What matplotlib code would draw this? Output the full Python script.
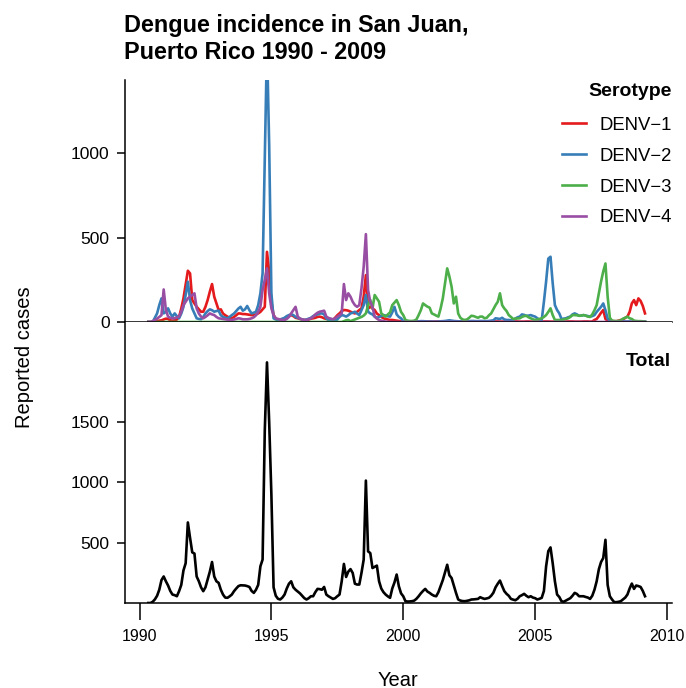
import matplotlib
matplotlib.use("Agg")
import matplotlib.pyplot as plt
import numpy as np

plt.rcParams['font.family'] = ['Liberation Sans', 'DejaVu Sans']

# monthly reported cases, May 1990 - Mar 2009
start_year = 1990 + 4 / 12

denv1 = [
    0, 0, 0, 2, 5, 8, 10, 15,
    20, 18, 10, 8, 10, 15, 30, 80, 140, 220, 304, 288,
    130, 110, 90, 75, 61, 61, 90, 130, 180, 225, 150, 110,
    71, 75, 50, 40, 32, 25, 22, 30, 40, 51, 50, 47,
    47, 45, 43, 41, 41, 45, 51, 60, 75, 90, 416, 300,
    120, 41, 20, 12, 12, 15, 22, 30, 35, 41, 35, 25,
    22, 18, 15, 12, 12, 15, 20, 22, 25, 30, 32, 28,
    22, 18, 15, 12, 12, 25, 40, 51, 65, 71, 70, 67,
    61, 55, 51, 60, 71, 81, 150, 278, 80, 91, 80, 71,
    50, 41, 30, 22, 18, 15, 12, 12, 10, 8, 6, 5,
    4, 3, 3, 2, 2, 3, 3, 4, 3, 2, 2, 3,
    3, 2, 2, 3, 3, 4, 3, 3, 2, 2, 3, 3,
    2, 2, 3, 3, 2, 2, 2, 3, 3, 2, 2, 2,
    2, 3, 3, 2, 2, 2, 3, 3, 2, 2, 2, 2,
    2, 2, 2, 3, 3, 2, 2, 2, 3, 3, 2, 2,
    2, 2, 2, 2, 3, 3, 3, 2, 2, 2, 2, 2,
    2, 2, 2, 3, 3, 3, 2, 2, 2, 2, 3, 3,
    3, 2, 3, 12, 18, 35, 55, 71, 18, 8, 5, 5,
    5, 5, 8, 12, 15, 25, 32, 60, 110, 130, 100, 140,
    125, 95, 51,
]

denv2 = [
    0, 0, 0, 25, 51, 100, 140, 51,
    60, 81, 50, 32, 51, 35, 22, 50, 90, 160, 239, 130,
    80, 51, 22, 18, 16, 30, 51, 65, 75, 70, 61, 65,
    67, 40, 30, 25, 22, 30, 41, 50, 65, 80, 90, 67,
    75, 95, 70, 51, 55, 61, 100, 170, 288, 958, 1650, 1050,
    170, 22, 15, 12, 15, 20, 25, 35, 41, 45, 41, 30,
    25, 20, 15, 12, 15, 20, 25, 35, 41, 45, 50, 51,
    45, 22, 12, 8, 6, 8, 15, 30, 41, 38, 32, 40,
    51, 55, 61, 50, 41, 70, 100, 160, 61, 51, 45, 32,
    25, 30, 35, 41, 38, 34, 32, 57, 90, 45, 30, 22,
    6, 4, 3, 3, 2, 2, 3, 4, 5, 5, 4, 3,
    3, 3, 2, 2, 3, 4, 5, 6, 8, 10, 8, 6,
    5, 4, 4, 3, 3, 4, 5, 6, 6, 5, 5, 6,
    6, 5, 5, 6, 8, 10, 22, 20, 18, 25, 15, 12,
    12, 10, 12, 20, 28, 32, 45, 42, 37, 38, 41, 36,
    32, 22, 15, 12, 120, 240, 376, 387, 230, 100, 71, 51,
    18, 20, 22, 28, 32, 45, 51, 45, 37, 38, 41, 38,
    35, 32, 35, 41, 60, 75, 90, 110, 70, 20, 8, 5,
    3, 2, 2, 2, 3, 3, 3, 3, 2, 2, 2, 2,
    2, 2, 2,
]

denv3 = [
    0, 0, 0, 0, 0, 0, 0, 0,
    0, 0, 0, 0, 0, 0, 0, 0, 0, 0, 0, 0,
    0, 0, 0, 0, 0, 0, 0, 0, 0, 0, 0, 0,
    0, 0, 0, 0, 0, 0, 0, 0, 0, 0, 0, 0,
    0, 0, 0, 0, 0, 0, 0, 0, 0, 0, 0, 0,
    0, 0, 0, 0, 0, 0, 0, 0, 0, 0, 0, 0,
    0, 0, 0, 0, 0, 0, 0, 0, 0, 0, 0, 0,
    0, 0, 0, 0, 0, 0, 0, 0, 0, 5, 10, 12,
    5, 10, 15, 20, 25, 30, 38, 51, 100, 130, 81, 160,
    140, 120, 51, 40, 32, 45, 57, 100, 115, 130, 100, 60,
    41, 12, 8, 6, 6, 8, 15, 41, 70, 110, 100, 91,
    85, 51, 45, 38, 32, 80, 140, 229, 318, 270, 209, 110,
    150, 50, 25, 15, 12, 15, 25, 37, 35, 30, 25, 32,
    32, 22, 25, 40, 51, 75, 100, 120, 170, 100, 80, 65,
    41, 30, 18, 20, 21, 22, 30, 35, 37, 28, 22, 16,
    12, 15, 18, 22, 30, 41, 60, 81, 41, 12, 12, 12,
    12, 15, 18, 22, 30, 41, 41, 40, 37, 38, 41, 38,
    32, 30, 45, 70, 100, 170, 240, 300, 347, 150, 25, 8,
    6, 5, 6, 10, 20, 25, 32, 22, 18, 8, 6, 5,
    5, 4, 3,
]

denv4 = [
    0, 0, 5, 12, 20, 30, 41, 193,
    71, 32, 25, 22, 22, 28, 32, 60, 100, 120, 140, 150,
    160, 170, 81, 50, 32, 22, 30, 40, 51, 45, 41, 30,
    22, 20, 18, 16, 14, 12, 12, 15, 18, 22, 20, 16,
    16, 16, 18, 22, 28, 40, 60, 90, 189, 250, 318, 170,
    81, 40, 22, 18, 15, 12, 12, 18, 30, 51, 70, 90,
    32, 20, 15, 12, 12, 16, 22, 30, 45, 55, 61, 64,
    67, 32, 24, 20, 16, 22, 32, 40, 51, 225, 130, 170,
    150, 120, 100, 90, 100, 200, 327, 521, 189, 120, 90, 32,
    20, 12, 8, 5, 2, 1, 1, 0, 0, 0, 0, 0,
    0, 0, 0, 0, 0, 0, 0, 0, 0, 0, 0, 0,
    0, 0, 0, 0, 0, 0, 0, 0, 0, 0, 0, 0,
    0, 0, 0, 0, 0, 0, 0, 0, 0, 0, 0, 0,
    0, 0, 0, 0, 0, 0, 0, 0, 0, 0, 0, 0,
    0, 0, 0, 0, 0, 0, 0, 0, 0, 0, 0, 0,
    0, 0, 0, 0, 0, 0, 0, 0, 0, 0, 0, 0,
    0, 0, 0, 0, 0, 0, 0, 0, 0, 0, 0, 0,
    0, 0, 0, 0, 0, 0, 0, 0, 0, 0, 0, 0,
    0, 0, 0, 0, 0, 0, 0, 0, 0, 0, 0, 0,
    0, 0, 0,
]

total = [
    0, 0, 10, 30, 60, 110, 190, 220,
    180, 145, 100, 70, 65, 56, 98, 150, 270, 330, 668, 540,
    420, 410, 220, 180, 130, 98, 130, 195, 260, 340, 220, 180,
    167, 110, 70, 45, 43, 55, 70, 98, 120, 140, 147, 146,
    145, 140, 133, 100, 84, 110, 150, 304, 360, 1430, 1995, 1500,
    900, 130, 60, 35, 29, 45, 70, 120, 160, 180, 130, 110,
    95, 80, 60, 40, 29, 40, 56, 56, 90, 117, 115, 110,
    133, 70, 56, 45, 34, 40, 56, 70, 180, 324, 216, 260,
    281, 249, 160, 153, 153, 250, 360, 1015, 428, 414, 290, 300,
    310, 180, 120, 90, 70, 55, 43, 120, 170, 236, 139, 80,
    56, 15, 12, 13, 15, 20, 35, 56, 80, 100, 117, 95,
    84, 70, 60, 56, 90, 139, 190, 253, 317, 230, 207, 145,
    84, 29, 20, 16, 15, 18, 22, 29, 30, 32, 34, 48,
    40, 34, 38, 43, 60, 85, 130, 160, 186, 140, 98, 76,
    60, 34, 28, 23, 35, 56, 65, 76, 60, 48, 56, 45,
    40, 29, 35, 43, 100, 304, 430, 461, 330, 180, 70, 50,
    15, 10, 20, 29, 40, 60, 84, 75, 56, 56, 56, 50,
    45, 34, 60, 110, 180, 280, 340, 373, 524, 150, 56, 29,
    7, 7, 10, 15, 30, 45, 70, 120, 161, 117, 145, 140,
    133, 100, 56,
]

serotypes = ["DENV\u22121", "DENV\u22122", "DENV\u22123", "DENV\u22124"]
colors = ["#E41A1C", "#377EB8", "#4DAF4A", "#984EA3"]

months = start_year + np.arange(len(total)) / 12

fig = plt.figure(figsize=(6.86, 6.88), dpi=100)
W, H = 686, 688
left, right = 125, 672
ax1 = fig.add_axes([left / W, 1 - 322 / H, (right - left) / W, (322 - 80) / H])
ax2 = fig.add_axes([left / W, 1 - 603 / H, (right - left) / W, (603 - 322) / H])

for ax in (ax1, ax2):
    ax.spines['top'].set_visible(False)
    ax.spines['right'].set_visible(False)
    ax.spines['left'].set_linewidth(1.1)
    ax.spines['bottom'].set_linewidth(1.1)
    ax.set_xlim(1989.45, 2010.19)
    ax.set_xticks([1990, 1995, 2000, 2005, 2010])
    ax.tick_params(direction='out', width=1.1, labelsize=11.5)
    ax.tick_params(axis='y', length=6, pad=5, labelsize=12.6)
    ax.tick_params(axis='x', length=12, pad=7)

for series, color, name in zip([denv1, denv2, denv3, denv4], colors, serotypes):
    ax1.plot(months, series, color=color, lw=1.9, label=name)

ax1.set_ylim(0, 1435)
ax1.set_yticks([0, 500, 1000])
ax1.tick_params(axis='x', labelbottom=False)

leg = ax1.legend(loc='upper right', bbox_to_anchor=(1.0, 0.987), frameon=False,
                 fontsize=13.3, title="Serotype",
                 title_fontproperties={'weight': 'bold', 'size': 14},
                 handlelength=1.3, handletextpad=0.75, labelspacing=0.75,
                 alignment='right', borderaxespad=0, borderpad=0)
leg._legend_box.sep = 12

ax2.plot(months, total, color='black', lw=1.9)
ax2.set_ylim(0, 2330)
ax2.set_yticks([500, 1000, 1500])
ax2.text(0.998, 0.843, "Total", transform=ax2.transAxes, ha='right',
         va='baseline', fontsize=14, fontweight='bold')

fig.text(124 / W, 1 - 14 / H, "Dengue incidence in San Juan,\nPuerto Rico 1990 - 2009",
         ha='left', va='top', fontsize=16.8, fontweight='bold', linespacing=1.2)
fig.text(25 / W, 1 - 357 / H, "Reported cases", rotation=90, ha='center',
         va='center', fontsize=14.5)
fig.text(398 / W, 1 - 680 / H, "Year", ha='center', va='center', fontsize=14.5)

fig.savefig("out.png", dpi=100)
